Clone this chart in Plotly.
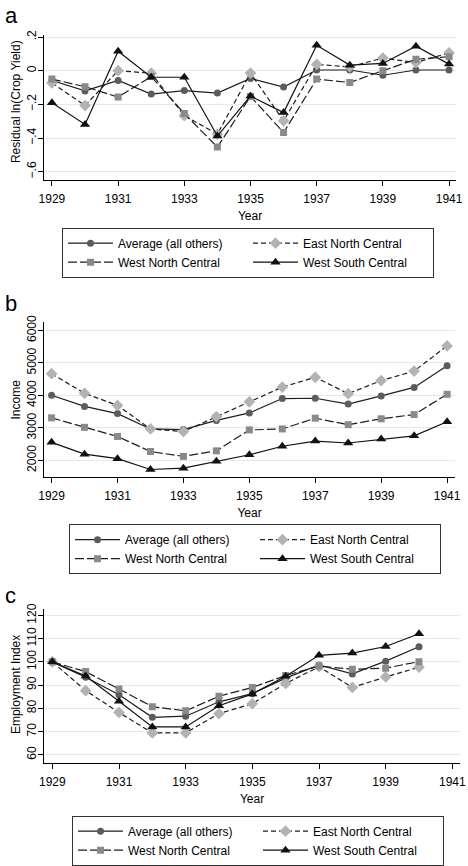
import plotly.graph_objects as go

years = list(range(1929, 1942))
years_c = list(range(1929, 1941))

names = ["Average (all others)", "East North Central", "West North Central", "West South Central"]

# Panel a: residual ln(crop yield)
crop_avg = [-0.058, -0.12, -0.058, -0.139, -0.118, -0.133, -0.046, -0.097, 0.004, 0.004, -0.027, 0.004, 0.004]
crop_enc = [-0.073, -0.207, 0.0, -0.015, -0.267, -0.377, -0.014, -0.298, 0.037, 0.023, 0.075, 0.048, 0.106]
crop_wnc = [-0.05, -0.095, -0.157, -0.035, -0.255, -0.454, -0.153, -0.367, -0.05, -0.07, 0.0, 0.068, 0.083]
crop_wsc = [-0.191, -0.319, 0.116, -0.039, -0.039, -0.388, -0.151, -0.249, 0.151, 0.033, 0.043, 0.145, 0.039]

# Panel b: income
inc_avg = [4004, 3662, 3440, 2967, 2947, 3229, 3460, 3903, 3913, 3732, 3984, 4246, 4910]
inc_enc = [4669, 4064, 3692, 2967, 2886, 3349, 3803, 4256, 4558, 4054, 4457, 4749, 5525]
inc_wnc = [3309, 3017, 2735, 2272, 2121, 2292, 2937, 2967, 3299, 3098, 3279, 3410, 4034]
inc_wsc = [2554, 2191, 2050, 1718, 1758, 1970, 2171, 2433, 2594, 2534, 2655, 2755, 3188]

# Panel c: employment index
emp_avg = [100, 93.4, 85.8, 76.1, 76.6, 82.8, 86.3, 93.0, 98.7, 94.8, 100.3, 106.5]
emp_enc = [100, 87.6, 78.2, 69.4, 69.4, 77.7, 82.0, 90.7, 97.9, 89.0, 93.5, 97.7]
emp_wnc = [100, 95.8, 88.3, 80.7, 78.9, 85.2, 89.0, 94.1, 98.2, 96.8, 97.3, 100.1]
emp_wsc = [100, 93.9, 83.0, 72.0, 72.0, 81.1, 86.2, 93.8, 102.8, 103.8, 106.6, 112.1]

xticks = [1929, 1931, 1933, 1935, 1937, 1939, 1941]
yticks_a = [0.2, 0, -0.2, -0.4, -0.6]
yticklabels_a = [".2", "0", "\u2212.2", "\u2212.4", "\u2212.6"]
yticks_b = [2000, 3000, 4000, 5000, 6000]
yticks_c = [60, 70, 80, 90, 100, 110, 120]

ytitles = ["Residual ln(Crop Yield)", "Income", "Employment Index"]
xtitle = "Year"
panel_letters = ["a", "b", "c"]

styles = [
    dict(marker=dict(symbol="circle", size=7, color="#5c5c5c"), line=dict(color="#1e1e1e", width=1.2, dash="solid")),
    dict(marker=dict(symbol="diamond", size=9, color="#b3b3b3"), line=dict(color="#1e1e1e", width=1.2, dash="5px,3px")),
    dict(marker=dict(symbol="square", size=7, color="#8a8a8a"), line=dict(color="#1e1e1e", width=1.2, dash="9px,3px")),
    dict(marker=dict(symbol="triangle-up", size=9, color="#111111"), line=dict(color="#111111", width=1.2, dash="solid")),
]

fig = go.Figure()
panels = [
    ("x", "y", "legend", years, [crop_avg, crop_enc, crop_wnc, crop_wsc]),
    ("x2", "y2", "legend2", years, [inc_avg, inc_enc, inc_wnc, inc_wsc]),
    ("x3", "y3", "legend3", years_c, [emp_avg, emp_enc, emp_wnc, emp_wsc]),
]
for xa, ya, lg, xs, series in panels:
    for nm, ys, st in zip(names, series, styles):
        fig.add_trace(go.Scatter(x=xs, y=ys, name=nm, mode="lines+markers",
                                 marker=st["marker"], line=st["line"],
                                 xaxis=xa, yaxis=ya, legend=lg))

W, H = 468, 866
def px_y(p):
    return 1 - p / H
def px_x(p):
    return p / W

font = dict(family="Liberation Sans, Arial, sans-serif", size=12, color="black")
axis_common = dict(showline=True, linecolor="black", linewidth=1, ticks="outside",
                   ticklen=5, tickcolor="black", automargin=False, zeroline=False,
                   tickfont=font)

xcommon = dict(axis_common, tickvals=xticks, showgrid=False, ticklabelstandoff=3,
               title=dict(text=xtitle, font=font, standoff=6))
ycommon = dict(axis_common, showgrid=True, gridcolor="#e8e8e8", gridwidth=1, tickangle=-90,
               ticklabelstandoff=-3)

legend_common = dict(orientation="h", bgcolor="white", bordercolor="#333333", borderwidth=1,
                     font=font, itemwidth=45, entrywidth=125, entrywidthmode="pixels",
                     xanchor="left", yanchor="top", tracegroupgap=0, itemclick=False)

fig.update_layout(
    width=W, height=H, margin=dict(l=0, r=0, t=0, b=0),
    paper_bgcolor="white", plot_bgcolor="white", font=font,
    xaxis=dict(xcommon, domain=[px_x(44), px_x(456)], range=[1928.76, 1941.21], anchor="y"),
    yaxis=dict(ycommon, domain=[px_y(183), px_y(36)], range=[-0.647, 0.21], tickvals=yticks_a,
               ticktext=yticklabels_a, anchor="x"),
    xaxis2=dict(xcommon, domain=[px_x(44), px_x(455)], range=[1928.77, 1941.24], anchor="y2"),
    yaxis2=dict(ycommon, domain=[px_y(486), px_y(328)], range=[1486, 6263], tickvals=yticks_b,
                anchor="x2"),
    xaxis3=dict(xcommon, domain=[px_x(44), px_x(460)], range=[1928.75, 1941.23], anchor="y3"),
    yaxis3=dict(ycommon, domain=[px_y(777), px_y(620)], range=[56.6, 122.96], tickvals=yticks_c,
                anchor="x3"),
    legend=dict(legend_common, x=px_x(62), y=px_y(232)),
    legend2=dict(legend_common, x=px_x(69), y=px_y(534)),
    legend3=dict(legend_common, x=px_x(72), y=px_y(831)),
    showlegend=True,
)

for lbl, ypix in zip(panel_letters, [16, 309, 607]):
    fig.add_annotation(text=lbl, x=px_x(3), y=px_y(ypix), xref="paper", yref="paper",
                       xanchor="left", yanchor="middle", showarrow=False,
                       font=dict(family="Liberation Sans, Arial, sans-serif", size=22, color="black"))

for t, ypix in zip(ytitles, [104, 407, 698]):
    fig.add_annotation(text=t, x=px_x(16), y=px_y(ypix), xref="paper", yref="paper",
                       xanchor="center", yanchor="middle", textangle=-90, showarrow=False,
                       font=font)

fig.write_html("out.html", post_script="document.body.style.margin='0';",
               config={"displayModeBar": False})
